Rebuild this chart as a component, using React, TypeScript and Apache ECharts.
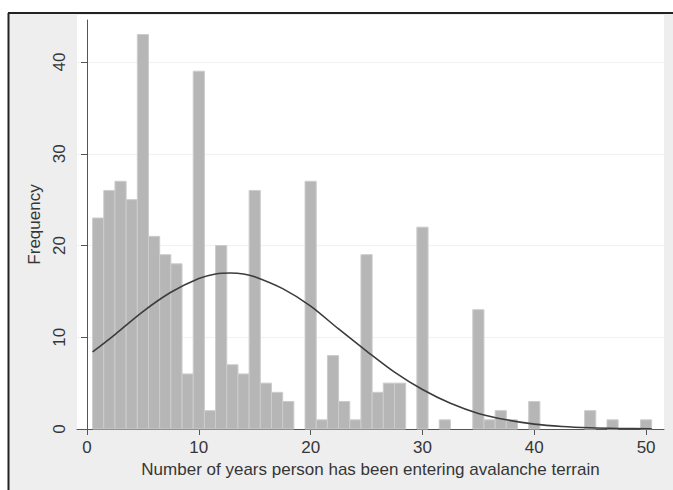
import React, { useEffect, useRef } from "react";
import * as echarts from "echarts";

// Histogram: years (discrete, bin width 1) and frequency
const years = [1,2,3,4,5,6,7,8,9,10,11,12,13,14,15,16,17,18,19,20,21,22,23,24,25,26,27,28,29,30,31,32,33,34,35,36,37,38,39,40,41,42,43,44,45,46,47,48,49,50];
const freq = [23,26,27,25,43,21,19,18,6,39,2,20,7,6,26,5,4,3,0,27,1,8,3,1,19,4,5,5,0,22,0,1,0,0,13,1,2,1,0,3,0,0,0,0,2,0,1,0,0,1];

// Normal-density overlay
const curveX = [0.5, 2.5, 5, 7.5, 10, 11.5, 12.8, 14, 15, 17.5, 20, 22.5, 25, 27.5, 30, 32.5, 35, 37.5, 40, 42.5, 45, 47.5, 50.5];
const curveY = [8.4, 10.3, 12.8, 14.9, 16.4, 16.9, 17.0, 16.9, 16.6, 15.3, 13.4, 10.9, 8.5, 6.2, 4.3, 2.8, 1.7, 1.0, 0.53, 0.27, 0.13, 0.06, 0.02];

const xTicks = [0, 10, 20, 30, 40, 50];
const yTicks = [0, 10, 20, 30, 40];

const FONT = "'Liberation Sans', Arial, sans-serif";
const TXT = "#363636";
const AX = "#555555";

export default function App() {
  const ref = useRef<HTMLDivElement>(null);
  useEffect(() => {
    document.body.style.margin = "0";
    const chart = echarts.init(ref.current!, null, { renderer: "svg" });
    const bars = years.map((x, i) => [x, freq[i]]).filter((d) => d[1] > 0);
    const curve = curveX.map((x, i) => [x, curveY[i]]);
    chart.setOption({
      animation: false,
      backgroundColor: "#ffffff",
      textStyle: { fontFamily: FONT },
      graphic: [
        { type: "rect", z: -10, shape: { x: 8, y: 13, width: 670, height: 480 }, style: { fill: "#eeeeee" } },
        { type: "rect", z: -9, shape: { x: 77, y: 15, width: 587, height: 414 }, style: { fill: "#ffffff" } },
        { type: "line", z: -8, shape: { x1: 8, y1: 13, x2: 673, y2: 13 }, style: { stroke: "#222", lineWidth: 2 } },
        { type: "line", z: -8, shape: { x1: 8.5, y1: 13, x2: 8.5, y2: 490 }, style: { stroke: "#222", lineWidth: 2 } },
      ],
      grid: { left: 77, right: 9, top: 20, bottom: 61, containLabel: false },
      xAxis: {
        type: "value",
        min: -0.894,
        max: 51.6,
        name: "Number of years person has been entering avalanche terrain",
        nameLocation: "middle",
        nameGap: 28,
        nameTextStyle: { fontSize: 17, color: TXT, fontFamily: FONT },
        axisLine: { show: true, onZero: false, lineStyle: { color: AX, width: 1 } },
        axisTick: { show: true, length: 6, lineStyle: { color: AX }, customValues: xTicks },
        axisLabel: { fontSize: 17, color: TXT, margin: 10, customValues: xTicks, fontFamily: FONT },
        splitLine: { show: false },
      },
      yAxis: {
        type: "value",
        min: 0,
        max: 44.58,
        interval: 10,
        name: "Frequency",
        nameLocation: "middle",
        nameRotate: 90,
        nameGap: 34,
        nameTextStyle: { fontSize: 17, color: TXT, fontFamily: FONT },
        axisLine: { show: true, lineStyle: { color: AX, width: 1 } },
        axisTick: { show: true, length: 6, lineStyle: { color: AX }, customValues: yTicks },
        axisLabel: { fontSize: 17, color: TXT, rotate: 90, margin: 9, customValues: yTicks, fontFamily: FONT, align: "center", verticalAlign: "bottom" },
        splitLine: { show: true, lineStyle: { color: "#f1f1f1", width: 1 } },
      },
      series: [
        {
          type: "custom",
          data: bars,
          z: 2,
          renderItem: (params: any, api: any) => {
            const x = api.value(0);
            const y = api.value(1);
            const p0 = api.coord([x - 0.5, y]);
            const p1 = api.coord([x + 0.5, 0]);
            return {
              type: "rect",
              shape: { x: p0[0], y: p0[1], width: p1[0] - p0[0], height: p1[1] - p0[1] },
              style: { fill: "#b6b6b6", stroke: "#cccccc", lineWidth: 1 },
            };
          },
        },
        {
          type: "line",
          data: curve,
          smooth: 0.3,
          showSymbol: false,
          z: 3,
          lineStyle: { color: "#3c3c3c", width: 1.6 },
        },
      ],
    });
    return () => chart.dispose();
  }, []);
  return <div ref={ref} style={{ width: 673, height: 490 }} />;
}
